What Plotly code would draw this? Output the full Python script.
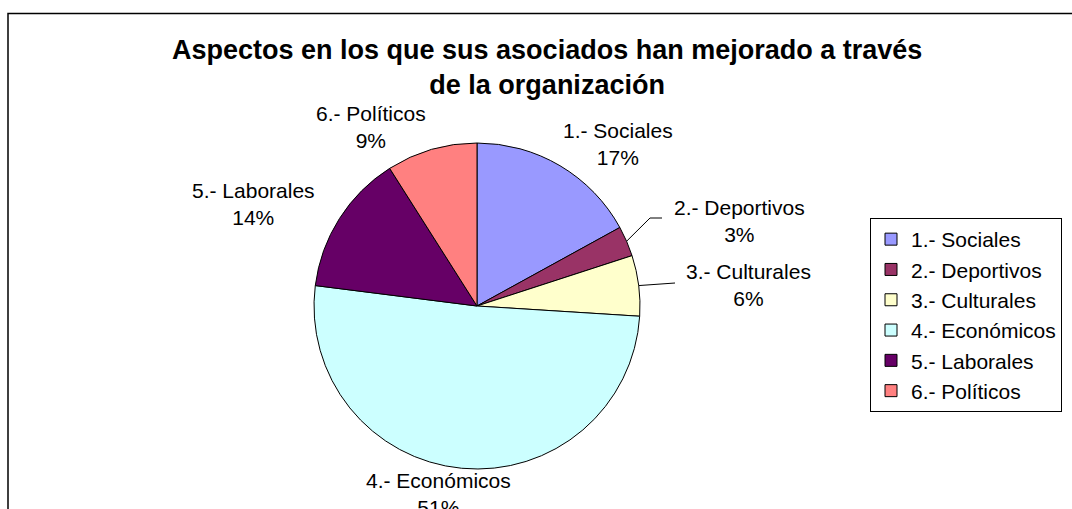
import math
import plotly.graph_objects as go

# ---- data ----
labels = ["1.- Sociales", "2.- Deportivos", "3.- Culturales",
          "4.- Económicos", "5.- Laborales", "6.- Políticos"]
values = [17, 3, 6, 51, 14, 9]
colors = ["#9999FF", "#993366", "#FFFFCC", "#CCFFFF", "#660066", "#FF8080"]
title_text = "Aspectos en los que sus asociados han mejorado a través<br>de la organización"

W, H = 1072, 509
FONT = "Liberation Sans, Arial, sans-serif"


def px(x):
    return x / W


def py(y):
    return 1 - y / H


# pie geometry (pixels)
cx, cy, r = 477, 306, 163

fig = go.Figure()
fig.add_trace(go.Pie(
    labels=labels, values=values, sort=False, direction="clockwise", rotation=0,
    textinfo="none", hoverinfo="label+percent",
    marker=dict(colors=colors, line=dict(color="black", width=1)),
    domain=dict(x=[px(cx - r), px(cx + r)], y=[py(cy + r), py(cy - r)]),
))

# label positions (pixel centers of first line)
label_pos = [(618, 130), (739, 207), (748, 271), (438, 480), (253, 190), (371, 113)]
total = sum(values)
annotations = []
for lab, v, (lx, ly) in zip(labels, values, label_pos):
    pct = round(100 * v / total)
    annotations.append(dict(
        x=px(lx), y=py(ly - 13), xref="paper", yref="paper",
        xanchor="center", yanchor="top", showarrow=False,
        text=f"{lab}<br>{pct}%", align="center",
        font=dict(family=FONT, size=21, color="black"),
    ))

annotations.append(dict(
    x=px(547), y=py(33), xref="paper", yref="paper", xanchor="center", yanchor="top",
    showarrow=False, text=f"<b>{title_text}</b>", align="center",
    font=dict(family=FONT, size=27, color="black"),
))

# leader lines for the small slices (start on the slice edge, computed from the data)
shapes = []
cum = 0
edge = []
for v in values:
    mid = (cum + v / 2) / total * 2 * math.pi
    edge.append((cx + r * math.sin(mid), cy - r * math.cos(mid)))
    cum += v

(dx, dy) = edge[1]
shapes.append(dict(type="path", xref="paper", yref="paper",
                   path=f"M {px(dx)} {py(dy)} L {px(650)} {py(218)} L {px(662)} {py(218)}",
                   line=dict(color="black", width=1)))
(ux, uy) = edge[2]
shapes.append(dict(type="path", xref="paper", yref="paper",
                   path=f"M {px(ux)} {py(uy)} L {px(675)} {py(283)}",
                   line=dict(color="black", width=1)))

# outer chart border
shapes.append(dict(type="rect", xref="paper", yref="paper",
                   x0=px(8), y0=py(13.5), x1=px(1090), y1=py(530),
                   line=dict(color="black", width=1.5)))

fig.update_layout(
    width=W, height=H, margin=dict(l=0, r=0, t=0, b=0),
    paper_bgcolor="white", plot_bgcolor="white",
    showlegend=True,
    legend=dict(x=px(870), y=py(218), xanchor="left", yanchor="top",
                bordercolor="black", borderwidth=1, bgcolor="white",
                font=dict(family=FONT, size=21, color="black"),
                tracegroupgap=0, itemwidth=30, entrywidth=210),
    annotations=annotations, shapes=shapes,
)

fig.write_html("out.html", config={"displayModeBar": False},
               post_script="document.body.style.margin='0';document.body.style.overflow='hidden';")
